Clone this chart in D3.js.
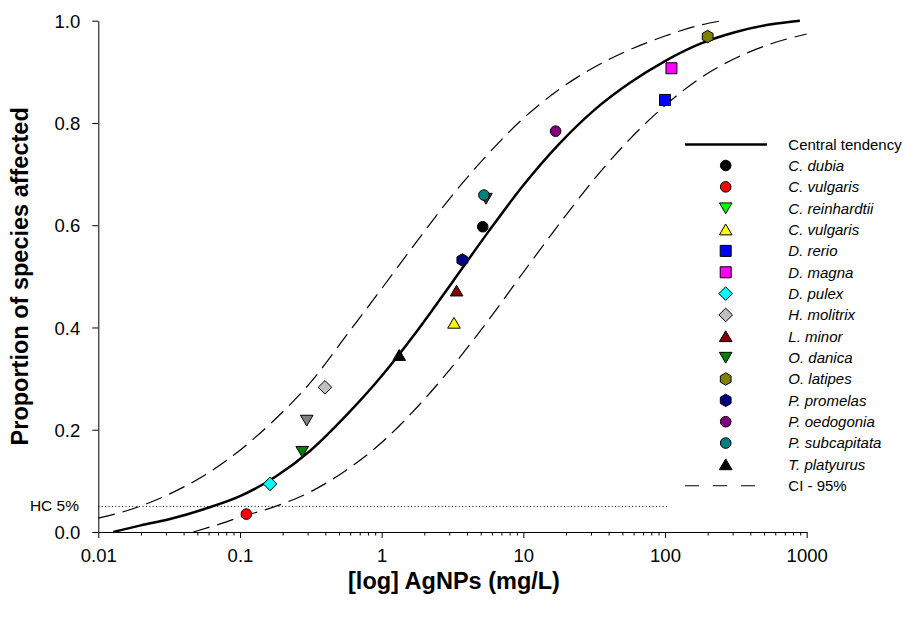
<!DOCTYPE html>
<html><head><meta charset="utf-8">
<script src="https://cdn.jsdelivr.net/npm/d3@7/dist/d3.min.js"></script>
<style>
body{margin:0;background:#fff}
svg{display:block}
text{font-family:"Liberation Sans",Arial,sans-serif;fill:#000}
</style>
</head><body>
<svg id="chart" width="903" height="619"></svg>
<script>
// ---------------- DATA ----------------
const xTicks = [0.01, 0.1, 1, 10, 100, 1000];
const xTickLabels = ["0.01", "0.1", "1", "10", "100", "1000"];
const yTicks = [0.0, 0.2, 0.4, 0.6, 0.8, 1.0];
const yTickLabels = ["0.0", "0.2", "0.4", "0.6", "0.8", "1.0"];

const species = ["C. dubia","C. vulgaris","C. reinhardtii","C. vulgaris","D. rerio","D. magna","D. pulex",
  "H. molitrix","L. minor","O. danica","O. latipes","P. promelas","P. oedogonia","P. subcapitata","T. platyurus"];
const shapes  = ["circle","circle","down","up","square","square","diamond","diamond","up","down","hexagon","hexagon","circle","circle","up"];
const colors  = ["#000000","#FF0000","#00FF00","#FFFF00","#0000FF","#FF00FF","#00FFFF","#C0C0C0","#800000","#008000","#808000","#000080","#800080","#008080","#000000"];
const conc    = [5.17, 0.111, null, 3.24, 100, 111, 0.163, 0.398, 3.38, 0.275, 200, 3.71, 16.9, 5.27, 1.33];
const prop    = [0.597, 0.035, null, 0.409, 0.845, 0.907, 0.094, 0.283, 0.472, 0.157, 0.969, 0.532, 0.784, 0.659, 0.346];

// points drawn without a legend entry
const extraShapes = ["down", "down"];
const extraColors = ["#808080", "#404040"];
const extraConc   = [0.296, 5.45];
const extraProp   = [0.218, 0.652];

// curves
const centralX = [0.01276,0.01995,0.03162,0.05623,0.1,0.1778,0.3162,0.5623,1,1.778,3.162,5.623,10,17.78,31.62,56.23,100,177.8,316.2,562.3,895];
const centralY = [0.0,0.013,0.025,0.045,0.070,0.108,0.160,0.228,0.305,0.393,0.489,0.586,0.678,0.758,0.825,0.878,0.921,0.955,0.978,0.993,1.0];
const upperX = [0.01,0.01778,0.03162,0.05623,0.1,0.1778,0.3162,0.5623,1,1.778,3.162,5.623,10,17.78,31.62,56.23,100,158.5,250.6];
const upperY = [0.027,0.046,0.074,0.111,0.160,0.221,0.293,0.384,0.476,0.569,0.659,0.739,0.809,0.865,0.909,0.943,0.970,0.988,1.0];
const lowerX = [0.0468,0.0708,0.1,0.1778,0.3162,0.5623,1,1.778,3.162,5.623,10,17.78,31.62,56.23,100,177.8,316.2,562.3,1000];
const lowerY = [0.0,0.015,0.029,0.050,0.079,0.121,0.175,0.244,0.324,0.413,0.508,0.601,0.690,0.768,0.834,0.888,0.927,0.955,0.974];

const hcLevel = 0.05;
const hcEnd = 105;
const hcLabel = "HC 5%";
const xTitle = "[log] AgNPs (mg/L)";
const yTitle = "Proportion of species affected";
const legendCentral = "Central tendency";
const legendCI = "CI - 95%";

// ---------------- CHART ----------------
const svg = d3.select("#chart");
const x = d3.scaleLog().domain([0.01, 1000]).range([98.3, 806.7]);
const y = d3.scaleLinear().domain([0, 1]).range([532, 20.7]);

// HC 5% dotted line
svg.append("line")
  .attr("x1", x(0.01)).attr("x2", x(hcEnd))
  .attr("y1", y(hcLevel)).attr("y2", y(hcLevel))
  .attr("stroke", "#000").attr("stroke-width", 1)
  .attr("stroke-dasharray", "1,2.4");
svg.append("text").attr("x", 79).attr("y", y(hcLevel) + 5)
  .attr("text-anchor", "end").style("font-size", "15.5px").text(hcLabel);

// curves
const line = d3.line().x(d => x(d[0])).y(d => y(d[1])).curve(d3.curveMonotoneX);
const zip = (a, b) => a.map((v, i) => [v, b[i]]);
svg.append("path").attr("d", line(zip(upperX, upperY)))
  .attr("fill", "none").attr("stroke", "#000").attr("stroke-width", 1.2).attr("stroke-dasharray", "17,8");
svg.append("path").attr("d", line(zip(lowerX, lowerY)))
  .attr("fill", "none").attr("stroke", "#000").attr("stroke-width", 1.2).attr("stroke-dasharray", "17,8");
svg.append("path").attr("d", line(zip(centralX, centralY)))
  .attr("fill", "none").attr("stroke", "#000").attr("stroke-width", 2.5);

// symbols
function symbolPath(shape) {
  switch (shape) {
    case "circle": return "M5.3,0A5.3,5.3 0 1,1 -5.3,0A5.3,5.3 0 1,1 5.3,0Z";
    case "square": return "M-5.5,-5.5H5.5V5.5H-5.5Z";
    case "up": return "M0,-5.5L6.3,5.3L-6.3,5.3Z";
    case "down": return "M0,5.5L6.3,-5.3L-6.3,-5.3Z";
    case "diamond": return "M0,-6.8L6.8,0L0,6.8L-6.8,0Z";
    case "hexagon": {
      const r = 6.2; let p = "";
      for (let i = 0; i < 6; i++) {
        const a = Math.PI / 3 * i - Math.PI / 2;
        p += (i ? "L" : "M") + (r * Math.cos(a)).toFixed(2) + "," + (r * Math.sin(a)).toFixed(2);
      }
      return p + "Z";
    }
  }
}
function drawSymbol(g, shape, color, cx, cy) {
  g.append("path").attr("d", symbolPath(shape))
    .attr("transform", `translate(${cx},${cy})`)
    .attr("fill", color).attr("stroke", "#000").attr("stroke-width", 1);
}

const gPts = svg.append("g");
extraShapes.forEach((s, i) => drawSymbol(gPts, s, extraColors[i], x(extraConc[i]), y(extraProp[i])));
species.forEach((s, i) => {
  if (conc[i] == null) return;
  drawSymbol(gPts, shapes[i], colors[i], x(conc[i]), y(prop[i]));
});

// axes
svg.append("g").attr("transform", `translate(0,${y(0)})`)
  .call(d3.axisBottom(x).tickValues(xTicks).tickFormat((d, i) => xTickLabels[i])
    .tickSize(6).tickSizeOuter(0).tickPadding(11));
const minor = [];
for (let e = -2; e < 3; e++) for (let m = 2; m <= 9; m++) minor.push(m * Math.pow(10, e));
svg.append("g").attr("transform", `translate(0,${y(0)})`)
  .call(d3.axisBottom(x).tickValues(minor).tickFormat("").tickSize(3.5).tickSizeOuter(0))
  .select(".domain").remove();
const yAxis = svg.append("g").attr("transform", `translate(${x(0.01)},0)`)
  .call(d3.axisLeft(y).tickValues(yTicks).tickFormat((d, i) => yTickLabels[i])
    .tickSize(6).tickSizeOuter(0).tickPadding(12));
svg.selectAll(".tick text").style("font-size", "18.5px").attr("font-family", "Liberation Sans, Arial, sans-serif");
svg.selectAll(".domain, .tick line").attr("stroke", "#000").attr("stroke-width", 1);
yAxis.selectAll(".tick text").attr("dy", "0.36em");

// titles
svg.append("text").attr("x", 454).attr("y", 589).attr("text-anchor", "middle")
  .style("font-size", "23.5px").style("font-weight", "bold").text(xTitle);
svg.append("text").attr("transform", `translate(28,${(y(0) + y(1)) / 2}) rotate(-90)`)
  .attr("text-anchor", "middle").style("font-size", "23.5px").style("font-weight", "bold").text(yTitle);

// legend
const lg = svg.append("g");
const lx1 = 685, lx2 = 767, symX = 725.7, textX = 788.3, row0 = 165.5, rowH = 21.35;
lg.append("line").attr("x1", lx1).attr("x2", lx2).attr("y1", 144.5).attr("y2", 144.5)
  .attr("stroke", "#000").attr("stroke-width", 2.5);
lg.append("text").attr("x", textX).attr("y", 144.5 + 5.3).style("font-size", "15px").text(legendCentral);
species.forEach((s, i) => {
  const ry = row0 + i * rowH;
  drawSymbol(lg, shapes[i], colors[i], symX, ry);
  lg.append("text").attr("x", textX).attr("y", ry + 5.3).style("font-size", "15px")
    .style("font-style", "italic").text(s);
});
const ciY = row0 + species.length * rowH;
lg.append("line").attr("x1", lx1).attr("x2", lx2).attr("y1", ciY).attr("y2", ciY)
  .attr("stroke", "#000").attr("stroke-width", 1.2).attr("stroke-dasharray", "14,14");
lg.append("text").attr("x", textX).attr("y", ciY + 5.3).style("font-size", "15px").text(legendCI);
</script>
</body></html>
